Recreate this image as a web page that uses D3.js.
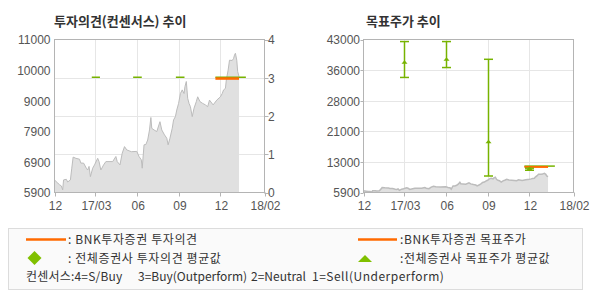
<!DOCTYPE html>
<html>
<head>
<meta charset="utf-8">
<script src="https://cdn.jsdelivr.net/npm/d3@7"></script>
<style>
  body { margin: 0; background: #fff; }
  svg text { font-family: "Liberation Sans Narrow", "Liberation Sans", sans-serif; fill: #555; }
  svg text.kr { font-family: "Noto Sans CJK KR", sans-serif; fill: #333; }
</style>
</head>
<body>
<div id="chart"></div>
<script>
// 주가 (일부 거래일만 추림)
const priceDates = [
  '2016-12-01', '2016-12-07', '2016-12-12', '2016-12-16', '2016-12-19', '2016-12-21', '2016-12-27', '2016-12-30',
  '2017-01-05', '2017-01-08', '2017-01-11', '2017-01-17', '2017-01-25', '2017-01-28', '2017-02-03', '2017-02-09',
  '2017-02-12', '2017-02-15', '2017-02-18', '2017-02-23', '2017-02-27', '2017-03-06', '2017-03-09', '2017-03-13',
  '2017-03-19', '2017-03-24', '2017-04-08', '2017-04-15', '2017-04-18', '2017-04-24', '2017-04-29', '2017-05-04',
  '2017-05-09', '2017-05-19', '2017-05-31', '2017-06-05', '2017-06-10', '2017-06-12', '2017-06-16', '2017-06-20',
  '2017-06-24', '2017-06-28', '2017-07-01', '2017-07-03', '2017-07-08', '2017-07-14', '2017-07-21', '2017-07-25',
  '2017-07-31', '2017-08-05', '2017-08-08', '2017-08-12', '2017-08-17', '2017-08-20', '2017-08-24', '2017-08-27',
  '2017-08-31', '2017-09-04', '2017-09-08', '2017-09-12', '2017-09-14', '2017-09-17', '2017-09-20', '2017-09-23',
  '2017-09-26', '2017-09-30', '2017-10-04', '2017-10-09', '2017-10-12', '2017-10-17', '2017-10-23', '2017-10-29',
  '2017-11-03', '2017-11-07', '2017-11-15', '2017-11-23', '2017-12-01', '2017-12-05', '2017-12-08', '2017-12-12',
  '2017-12-14', '2017-12-18', '2017-12-21', '2017-12-27', '2017-12-30', '2018-01-01', '2018-01-03', '2018-01-06',
  '2018-01-08', '2018-01-11'
];
const priceValues = [
  6320, 6230, 6160, 6120, 5990, 6320, 6340, 6250,
  6320, 6710, 7080, 7040, 7010, 6880, 6880, 6710,
  6650, 6770, 6430, 6710, 6820, 7040, 6930, 6650,
  6820, 6930, 6930, 7100, 6930, 6820, 7210, 7430,
  7320, 7260, 7270, 7100, 6990, 6710, 7490, 7500,
  7650, 7985, 8400, 8040, 7985, 7930, 8260, 7985,
  7820, 7710, 7490, 7710, 8040, 8320, 8430, 8650,
  8870, 9200, 9320, 9200, 9430, 9600, 9040, 8870,
  8760, 8430, 8710, 8930, 9090, 8930, 8870, 8820,
  8760, 8980, 8820, 8980, 9090, 9200, 9320, 9370,
  9650, 9980, 10310, 10300, 10370, 10480, 10540, 10310,
  9930, 9760
];

// 축 눈금
const opinionTicks = [0, 1, 2, 3, 4];
const priceTicks = [5900, 6920, 7940, 8960, 9980, 11000];
const priceLabels = ['5900', '6900', '7900', '9000', '10000', '11000'];
const targetTicks = [5900, 13320, 20740, 28160, 35580, 43000];
const targetLabels = ['5900', '13000', '21000', '28000', '36000', '43000'];
const monthTicks = ['2016-12-01', '2017-03-01', '2017-06-01', '2017-09-01', '2017-12-01', '2018-03-08'];
const monthLabels = ['12', '17/03', '06', '09', '12', '18/02'];

// 전체증권사 투자의견 평균값 구간
const consStart = ['2017-02-21', '2017-05-23', '2017-08-25', '2017-11-20'];
const consEnd = ['2017-03-11', '2017-06-11', '2017-09-13', '2018-01-26'];
const consValue = [3, 3, 3, 3];

// BNK투자증권 투자의견 / 목표주가
const bnkStart = ['2017-11-20'];
const bnkEnd = ['2018-01-11'];
const bnkOpinion = [3];
const bnkTarget = [12100];

// 전체증권사 목표주가 (최고 / 최저 / 평균)
const targetDates = ['2017-03-01', '2017-06-01', '2017-09-01', '2017-12-01'];
const targetHigh = [42500, 42500, 38200, 11800];
const targetLow = [33800, 36200, 9900, 11300];
const targetAvg = [37500, 38200, 18200, 11700];
const targetAvgLineStart = ['2017-11-20'];
const targetAvgLineEnd = ['2018-01-26'];
const targetAvgLine = [12300];

const ORANGE = '#ff6a00';
const GREEN = '#77b300';
const GRID = '#e6e6e6';
const FRAME = '#b4b4b4';

const parse = d3.timeParse('%Y-%m-%d');
const prices = priceDates.map((d, i) => ({ date: parse(d), value: priceValues[i] }));

const svg = d3.select('#chart')
  .append('svg')
  .attr('width', 590)
  .attr('height', 300);

// 차트 한 칸의 틀, 격자, x축을 그린다
function drawFrame(x0, x1, y0, y1, hLines) {
  const x = d3.scaleTime()
    .domain([parse(monthTicks[0]), parse(monthTicks[monthTicks.length - 1])])
    .range([x0, x1]);
  const g = svg.append('g');

  // 세로 격자
  g.selectAll('line.vgrid')
    .data(monthTicks.slice(1, -1))
    .enter()
    .append('line')
    .attr('x1', d => Math.round(x(parse(d))) + 0.5)
    .attr('x2', d => Math.round(x(parse(d))) + 0.5)
    .attr('y1', y0)
    .attr('y2', y1)
    .attr('stroke', GRID);

  // 가로 격자
  g.selectAll('line.hgrid')
    .data(hLines)
    .enter()
    .append('line')
    .attr('x1', x0)
    .attr('x2', x1)
    .attr('y1', d => Math.round(d) + 0.5)
    .attr('y2', d => Math.round(d) + 0.5)
    .attr('stroke', GRID);

  // x축 눈금과 라벨
  g.selectAll('line.xtick')
    .data(monthTicks)
    .enter()
    .append('line')
    .attr('x1', d => Math.round(x(parse(d))) + 0.5)
    .attr('x2', d => Math.round(x(parse(d))) + 0.5)
    .attr('y1', y1)
    .attr('y2', y1 + 4)
    .attr('stroke', FRAME);

  g.selectAll('text.xlabel')
    .data(monthTicks)
    .enter()
    .append('text')
    .attr('x', d => x(parse(d)) + 1)
    .attr('y', y1 + 17.5)
    .attr('text-anchor', 'middle')
    .attr('font-size', 12)
    .text((d, i) => monthLabels[i]);

  return { x: x, g: g };
}

function drawBorder(x0, x1, y0, y1) {
  svg.append('rect')
    .attr('x', x0)
    .attr('y', y0)
    .attr('width', x1 - x0)
    .attr('height', y1 - y0)
    .attr('fill', 'none')
    .attr('stroke', FRAME);
}

function drawArea(g, x, y, y1, strokeWidth) {
  const area = d3.area()
    .x(d => x(d.date))
    .y0(y1)
    .y1(d => y(d.value));
  const line = d3.line()
    .x(d => x(d.date))
    .y(d => y(d.value));
  g.append('path')
    .datum(prices)
    .attr('d', area)
    .attr('fill', '#e0e0e0');
  g.append('path')
    .datum(prices)
    .attr('d', line)
    .attr('fill', 'none')
    .attr('stroke', '#bcbcbc')
    .attr('stroke-width', strokeWidth);
}

// ---- 투자의견(컨센서스) 추이 ----
(function () {
  const x0 = 54.5, x1 = 264.5, y0 = 39.5, y1 = 192.5;
  const yOp = d3.scaleLinear().domain([0, 4]).range([y1, y0]);
  const yPrice = d3.scaleLinear().domain([5900, 11000]).range([y1, y0]);

  svg.append('text')
    .attr('class', 'kr')
    .attr('x', 54)
    .attr('y', 26)
    .attr('font-size', 13)
    .attr('font-weight', 'bold')
    .text('투자의견(컨센서스) 추이');

  const frame = drawFrame(x0, x1, y0, y1, opinionTicks.slice(1, -1).map(yOp));
  const x = frame.x;
  drawArea(frame.g, x, yPrice, y1, 1);

  // 왼쪽 주가 라벨
  svg.selectAll('text.lp')
    .data(priceTicks)
    .enter()
    .append('text')
    .attr('x', 50.5)
    .attr('y', d => yPrice(d))
    .attr('dy', '0.4em')
    .attr('text-anchor', 'end')
    .attr('font-size', 12)
    .text((d, i) => priceLabels[i]);

  // 오른쪽 투자의견 눈금
  svg.selectAll('line.rt')
    .data(opinionTicks)
    .enter()
    .append('line')
    .attr('x1', x1)
    .attr('x2', x1 + 4)
    .attr('y1', d => Math.round(yOp(d)) + 0.5)
    .attr('y2', d => Math.round(yOp(d)) + 0.5)
    .attr('stroke', FRAME);
  svg.selectAll('text.rp')
    .data(opinionTicks)
    .enter()
    .append('text')
    .attr('x', 268)
    .attr('y', d => yOp(d))
    .attr('dy', '0.4em')
    .attr('font-size', 12)
    .text(d => d);

  drawBorder(x0, x1, y0, y1);

  // 전체증권사 평균 (초록)
  svg.selectAll('line.cons')
    .data(consValue)
    .enter()
    .append('line')
    .attr('x1', (d, i) => x(parse(consStart[i])))
    .attr('x2', (d, i) => x(parse(consEnd[i])))
    .attr('y1', d => yOp(d) - 0.5)
    .attr('y2', d => yOp(d) - 0.5)
    .attr('stroke', GREEN)
    .attr('stroke-width', 1.5);

  // BNK 투자의견 (주황)
  svg.selectAll('line.bnk')
    .data(bnkOpinion)
    .enter()
    .append('line')
    .attr('x1', (d, i) => x(parse(bnkStart[i])))
    .attr('x2', (d, i) => x(parse(bnkEnd[i])))
    .attr('y1', d => yOp(d) + 0.8)
    .attr('y2', d => yOp(d) + 0.8)
    .attr('stroke', ORANGE)
    .attr('stroke-width', 2.5);
})();

// ---- 목표주가 추이 ----
(function () {
  const x0 = 363.5, x1 = 573.5, y0 = 39.5, y1 = 192.5;
  const y = d3.scaleLinear().domain([5900, 43000]).range([y1, y0]);

  svg.append('text')
    .attr('class', 'kr')
    .attr('x', 366)
    .attr('y', 26)
    .attr('font-size', 13)
    .attr('font-weight', 'bold')
    .text('목표주가 추이');

  const frame = drawFrame(x0, x1, y0, y1, targetTicks.slice(1, -1).map(y));
  const x = frame.x;
  drawArea(frame.g, x, y, y1, 1.5);

  svg.selectAll('line.lt')
    .data(targetTicks)
    .enter()
    .append('line')
    .attr('x1', x0 - 3)
    .attr('x2', x0)
    .attr('y1', d => Math.round(y(d)) + 0.5)
    .attr('y2', d => Math.round(y(d)) + 0.5)
    .attr('stroke', FRAME);
  svg.selectAll('text.lt')
    .data(targetTicks)
    .enter()
    .append('text')
    .attr('x', 360)
    .attr('y', d => y(d))
    .attr('dy', '0.4em')
    .attr('text-anchor', 'end')
    .attr('font-size', 12)
    .text((d, i) => targetLabels[i]);

  drawBorder(x0, x1, y0, y1);

  // 평균 목표주가 선 (초록) 위에 BNK 목표주가 (주황)
  svg.selectAll('line.avgline')
    .data(targetAvgLine)
    .enter()
    .append('line')
    .attr('x1', (d, i) => x(parse(targetAvgLineStart[i])))
    .attr('x2', (d, i) => x(parse(targetAvgLineEnd[i])))
    .attr('y1', d => y(d))
    .attr('y2', d => y(d))
    .attr('stroke', GREEN)
    .attr('stroke-width', 1.5);
  svg.selectAll('line.bnkt')
    .data(bnkTarget)
    .enter()
    .append('line')
    .attr('x1', (d, i) => x(parse(bnkStart[i])))
    .attr('x2', (d, i) => x(parse(bnkEnd[i])))
    .attr('y1', d => y(d))
    .attr('y2', d => y(d))
    .attr('stroke', ORANGE)
    .attr('stroke-width', 2);

  // 최고~최저 범위 막대
  const bars = svg.selectAll('g.range')
    .data(targetDates)
    .enter()
    .append('g')
    .attr('transform', d => `translate(${Math.round(x(parse(d))) + 0.5},0)`);
  bars.append('line')
    .attr('y1', (d, i) => y(targetHigh[i]))
    .attr('y2', (d, i) => y(targetLow[i]))
    .attr('stroke', GREEN)
    .attr('stroke-width', 1.5);
  bars.append('line')
    .attr('x1', -4.5).attr('x2', 4.5)
    .attr('y1', (d, i) => y(targetHigh[i]))
    .attr('y2', (d, i) => y(targetHigh[i]))
    .attr('stroke', GREEN)
    .attr('stroke-width', 1.5);
  bars.append('line')
    .attr('x1', -4.5).attr('x2', 4.5)
    .attr('y1', (d, i) => y(targetLow[i]))
    .attr('y2', (d, i) => y(targetLow[i]))
    .attr('stroke', GREEN)
    .attr('stroke-width', 1.5);
  bars.append('path')
    .attr('d', (d, i) => {
      const cy = y(targetAvg[i]);
      return `M-3,${cy + 1.5}L3,${cy + 1.5}L0,${cy - 2}Z`;
    })
    .attr('fill', GREEN);
})();

// ---- 범례 ----
(function () {
  const legend = svg.append('g');
  legend.append('rect')
    .attr('x', 8.5)
    .attr('y', 228.5)
    .attr('width', 574)
    .attr('height', 61)
    .attr('fill', '#fafafa')
    .attr('stroke', '#dcdcdc');

  legend.append('line')
    .attr('x1', 26).attr('x2', 66)
    .attr('y1', 239.5).attr('y2', 239.5)
    .attr('stroke', ORANGE)
    .attr('stroke-width', 2.5);
  legend.append('line')
    .attr('x1', 358).attr('x2', 397)
    .attr('y1', 239.5).attr('y2', 239.5)
    .attr('stroke', ORANGE)
    .attr('stroke-width', 2.5);
  legend.append('path')
    .attr('d', 'M34.5,251L41.5,258L34.5,265L27.5,258Z')
    .attr('fill', '#80c000');
  legend.append('path')
    .attr('d', 'M358,262L372,262L365,255Z')
    .attr('fill', '#80c000');

  const items = [
    [68, 244, ': BNK투자증권 투자의견', 0.6],
    [400, 244, ':BNK투자증권 목표주가', 0.6],
    [68, 263, ': 전체증권사 투자의견 평균값', 0.6],
    [400, 263, ':전체증권사 목표주가 평균값', 0.6],
    [26, 281, '컨센서스:4=S/Buy', 0.2],
    [138, 281, '3=Buy(Outperform)', 0],
    [251, 281, '2=Neutral', 0],
    [312, 281, '1=Sell(Underperform)', 0.5]
  ];
  legend.selectAll('text')
    .data(items)
    .enter()
    .append('text')
    .attr('class', 'kr')
    .attr('x', d => d[0])
    .attr('y', d => d[1])
    .attr('font-size', 12)
    .attr('letter-spacing', d => d[3])
    .text(d => d[2]);
})();
</script>
</body>
</html>
